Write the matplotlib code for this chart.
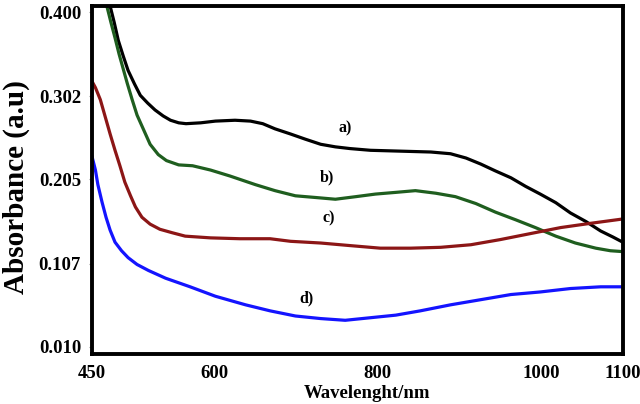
import matplotlib
matplotlib.use("Agg")
from matplotlib import pyplot as plt

# curve a) black
wl_a = [472, 477, 482, 488, 494, 502, 509, 518, 527, 537, 546, 556, 565, 583, 601, 625, 644, 659, 674, 693,
        711, 730, 748, 766, 791, 828, 865, 889, 908, 926, 944, 963, 981, 999, 1018, 1036, 1055, 1073, 1088, 1100]
abs_a = [0.407, 0.388, 0.367, 0.349, 0.332, 0.316, 0.303, 0.294, 0.286, 0.279, 0.274, 0.271, 0.270, 0.271, 0.273,
         0.274, 0.273, 0.270, 0.264, 0.258, 0.252, 0.246, 0.243, 0.241, 0.239, 0.238, 0.237, 0.235, 0.230, 0.223,
         0.215, 0.207, 0.197, 0.188, 0.178, 0.166, 0.156, 0.145, 0.138, 0.132]

# curve b) green
wl_b = [468, 473, 478, 483, 488, 493, 499, 505, 513, 521, 531, 541, 556, 573, 595, 619, 650, 674, 699, 724,
        748, 773, 797, 822, 846, 871, 895, 920, 944, 969, 993, 1018, 1042, 1067, 1085, 1100]
abs_b = [0.407, 0.388, 0.370, 0.351, 0.334, 0.317, 0.298, 0.280, 0.263, 0.246, 0.234, 0.227, 0.222, 0.221, 0.216,
         0.209, 0.199, 0.192, 0.186, 0.184, 0.182, 0.185, 0.188, 0.190, 0.192, 0.189, 0.185, 0.177, 0.167, 0.158,
         0.149, 0.139, 0.131, 0.125, 0.122, 0.121]

# curve c) red
wl_c = [450, 454, 460, 466, 472, 478, 484, 490, 497, 503, 511, 521, 533, 548, 564, 595, 631, 668, 693, 730,
        766, 803, 840, 877, 914, 950, 987, 1024, 1061, 1100]
abs_c = [0.319, 0.312, 0.298, 0.278, 0.258, 0.239, 0.221, 0.202, 0.186, 0.173, 0.161, 0.153, 0.147, 0.143, 0.139,
         0.137, 0.136, 0.136, 0.133, 0.131, 0.128, 0.125, 0.125, 0.126, 0.129, 0.135, 0.142, 0.149, 0.154, 0.159]

# curve d) blue
wl_d = [450, 454, 457, 462, 467, 472, 478, 486, 494, 505, 519, 540, 570, 601, 638, 668, 699, 730, 760, 791,
        822, 852, 889, 926, 963, 999, 1036, 1073, 1100]
abs_d = [0.231, 0.216, 0.199, 0.179, 0.161, 0.146, 0.132, 0.122, 0.114, 0.106, 0.099, 0.090, 0.080, 0.069, 0.059,
         0.052, 0.046, 0.043, 0.041, 0.044, 0.047, 0.052, 0.059, 0.065, 0.071, 0.074, 0.078, 0.080, 0.080]

xticks = [450, 600, 800, 1000, 1100]
yticks = [0.010, 0.107, 0.205, 0.302, 0.400]

font = "Liberation Serif"

fig = plt.figure(figsize=(6.4, 4.04), dpi=100)
ax = fig.add_axes([0.144, 0.124, 0.829, 0.861])

ax.plot(wl_a, abs_a, color="black", lw=2.3)
ax.plot(wl_b, abs_b, color="#1f5e1f", lw=2.3)
ax.plot(wl_c, abs_c, color="#8c1616", lw=2.3)
ax.plot(wl_d, abs_d, color="#1414ff", lw=2.3)

# curve labels
ax.text(760, 0.265, "a)", fontfamily=font, fontweight="bold", fontsize=11.5, ha="center", va="center")
ax.text(738, 0.207, "b)", fontfamily=font, fontweight="bold", fontsize=11.5, ha="center", va="center")
ax.text(740, 0.160, "c)", fontfamily=font, fontweight="bold", fontsize=11.5, ha="center", va="center")
ax.text(713, 0.067, "d)", fontfamily=font, fontweight="bold", fontsize=11.5, ha="center", va="center")

ax.set_xlim(450, 1100)
ax.set_ylim(0.00185, 0.407)
ax.set_xticks(xticks)
ax.set_xticklabels([str(t) for t in xticks])
ax.set_yticks(yticks)
ax.set_yticklabels(["%.3f" % t for t in yticks])

for lab in ax.get_xticklabels() + ax.get_yticklabels():
    lab.set_fontfamily(font)
    lab.set_fontweight("bold")
    lab.set_fontsize(13.5)

ax.tick_params(axis="x", length=0, pad=8)
ax.tick_params(axis="y", length=2, color="#999999", pad=6)

for s in ax.spines.values():
    s.set_linewidth(2.8)
    s.set_color("black")

ax.set_ylabel("Absorbance (a.u)", fontfamily=font, fontweight="bold", fontsize=21)
ax.yaxis.set_label_coords(-0.118, 0.48)
ax.set_xlabel("Wavelenght/nm", fontfamily=font, fontweight="bold", fontsize=13.5)
ax.xaxis.set_label_coords(0.518, -0.088)

fig.savefig("out.png", dpi=100)
